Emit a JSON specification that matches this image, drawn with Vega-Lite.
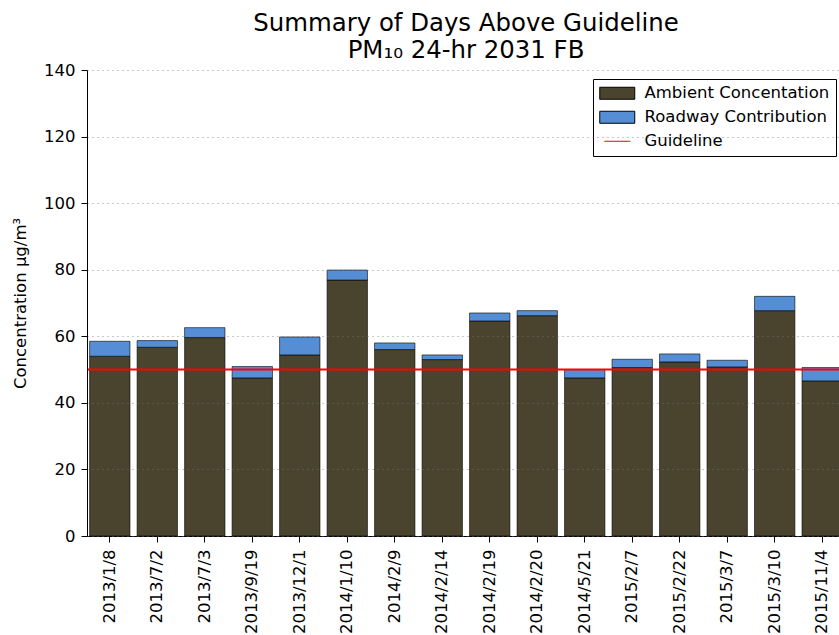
{
  "$schema": "https://vega.github.io/schema/vega-lite/v6.json",
  "width": 752,
  "height": 466,
  "autosize": {"type": "none"},
  "padding": {"left": 87, "top": 70, "right": 0, "bottom": 99},
  "background": "white",
  "title": {
    "text": ["Summary of Days Above Guideline", "PM₁₀ 24-hr 2031 FB"],
    "font": "DejaVu Sans",
    "fontSize": 24.4,
    "fontWeight": "normal",
    "color": "black",
    "anchor": "middle",
    "dx": 3,
    "offset": -1,
    "lineHeight": 27
  },
  "config": {
    "view": {"stroke": null},
    "axis": {
      "domainColor": "black",
      "tickColor": "black",
      "labelColor": "black",
      "titleColor": "black",
      "labelFont": "DejaVu Sans",
      "titleFont": "DejaVu Sans",
      "labelFontSize": 16.5,
      "titleFontSize": 16.5,
      "titleFontWeight": "normal",
      "tickSize": 6
    },
    "legend": {
      "labelFont": "DejaVu Sans",
      "labelFontSize": 16.5,
      "labelColor": "black",
      "labelLimit": 0
    }
  },
  "layer": [
    {
      "data": {
        "values": [
          {"date": "2013/1/8", "series": "Ambient Concentation", "value": 54.0},
          {"date": "2013/1/8", "series": "Roadway Contribution", "value": 4.5},
          {"date": "2013/7/2", "series": "Ambient Concentation", "value": 56.7},
          {"date": "2013/7/2", "series": "Roadway Contribution", "value": 2.0},
          {"date": "2013/7/3", "series": "Ambient Concentation", "value": 59.6},
          {"date": "2013/7/3", "series": "Roadway Contribution", "value": 3.0},
          {"date": "2013/9/19", "series": "Ambient Concentation", "value": 47.5},
          {"date": "2013/9/19", "series": "Roadway Contribution", "value": 3.4},
          {"date": "2013/12/1", "series": "Ambient Concentation", "value": 54.4},
          {"date": "2013/12/1", "series": "Roadway Contribution", "value": 5.4},
          {"date": "2014/1/10", "series": "Ambient Concentation", "value": 76.9},
          {"date": "2014/1/10", "series": "Roadway Contribution", "value": 3.0},
          {"date": "2014/2/9", "series": "Ambient Concentation", "value": 56.0},
          {"date": "2014/2/9", "series": "Roadway Contribution", "value": 2.0},
          {"date": "2014/2/14", "series": "Ambient Concentation", "value": 53.0},
          {"date": "2014/2/14", "series": "Roadway Contribution", "value": 1.4},
          {"date": "2014/2/19", "series": "Ambient Concentation", "value": 64.6},
          {"date": "2014/2/19", "series": "Roadway Contribution", "value": 2.4},
          {"date": "2014/2/20", "series": "Ambient Concentation", "value": 66.2},
          {"date": "2014/2/20", "series": "Roadway Contribution", "value": 1.5},
          {"date": "2014/5/21", "series": "Ambient Concentation", "value": 47.5},
          {"date": "2014/5/21", "series": "Roadway Contribution", "value": 2.5},
          {"date": "2015/2/7", "series": "Ambient Concentation", "value": 50.6},
          {"date": "2015/2/7", "series": "Roadway Contribution", "value": 2.5},
          {"date": "2015/2/22", "series": "Ambient Concentation", "value": 52.3},
          {"date": "2015/2/22", "series": "Roadway Contribution", "value": 2.4},
          {"date": "2015/3/7", "series": "Ambient Concentation", "value": 50.8},
          {"date": "2015/3/7", "series": "Roadway Contribution", "value": 2.0},
          {"date": "2015/3/10", "series": "Ambient Concentation", "value": 67.7},
          {"date": "2015/3/10", "series": "Roadway Contribution", "value": 4.3},
          {"date": "2015/11/4", "series": "Ambient Concentation", "value": 46.6},
          {"date": "2015/11/4", "series": "Roadway Contribution", "value": 4.0}
        ]
      },
      "mark": {"type": "bar", "stroke": "#000000", "strokeOpacity": 0.6, "strokeWidth": 1},
      "encoding": {
        "x": {
          "field": "date",
          "type": "nominal",
          "sort": null,
          "scale": {"range": [0, 758], "paddingInner": 0.15, "paddingOuter": 0.055},
          "axis": {"title": null, "labelAngle": -90, "labelPadding": 7, "grid": false}
        },
        "y": {
          "field": "value",
          "type": "quantitative",
          "stack": "zero",
          "scale": {"domain": [0, 140], "nice": false},
          "axis": {
            "title": "Concentration µg/m³",
            "values": [0, 20, 40, 60, 80, 100, 120, 140],
            "grid": true,
            "gridColor": "#777777",
            "gridDash": [1, 4],
            "gridWidth": 0.8,
            "zindex": 1,
            "labelPadding": 6,
            "titlePadding": 15
          }
        },
        "order": {"field": "series", "type": "nominal", "sort": "ascending"},
        "color": {
          "field": "series",
          "type": "nominal",
          "scale": {
            "domain": ["Ambient Concentation", "Roadway Contribution", "Guideline"],
            "range": ["#4a442e", "#568ed6", "#ff0000"]
          },
          "legend": {
            "title": null,
            "orient": "none",
            "legendX": 506,
            "legendY": 9,
            "padding": 6,
            "strokeColor": "#000000",
            "fillColor": "#ffffff",
            "cornerRadius": 0,
            "symbolSize": 100,
            "symbolType": "M-3.5,-1.2H3.5V1.2H-3.5Z",
            "symbolStrokeColor": "#000000",
            "symbolStrokeWidth": 1,
            "symbolOffset": 10,
            "labelOffset": 19,
            "rowPadding": 7,
            "encode": {
              "symbols": {
                "update": {
                  "shape": {"signal": "datum.value === 'Guideline' ? 'M-2.6,0H2.6' : 'M-3.5,-1.2H3.5V1.2H-3.5Z'"},
                  "stroke": {"signal": "datum.value === 'Guideline' ? '#ff0000' : '#000000'"}
                }
              }
            }
          }
        }
      }
    },
    {
      "data": {"values": [{"value": 50}]},
      "mark": {"type": "rule", "strokeWidth": 2, "color": "#ff0000"},
      "encoding": {
        "y": {"field": "value", "type": "quantitative"}
      }
    }
  ]
}
